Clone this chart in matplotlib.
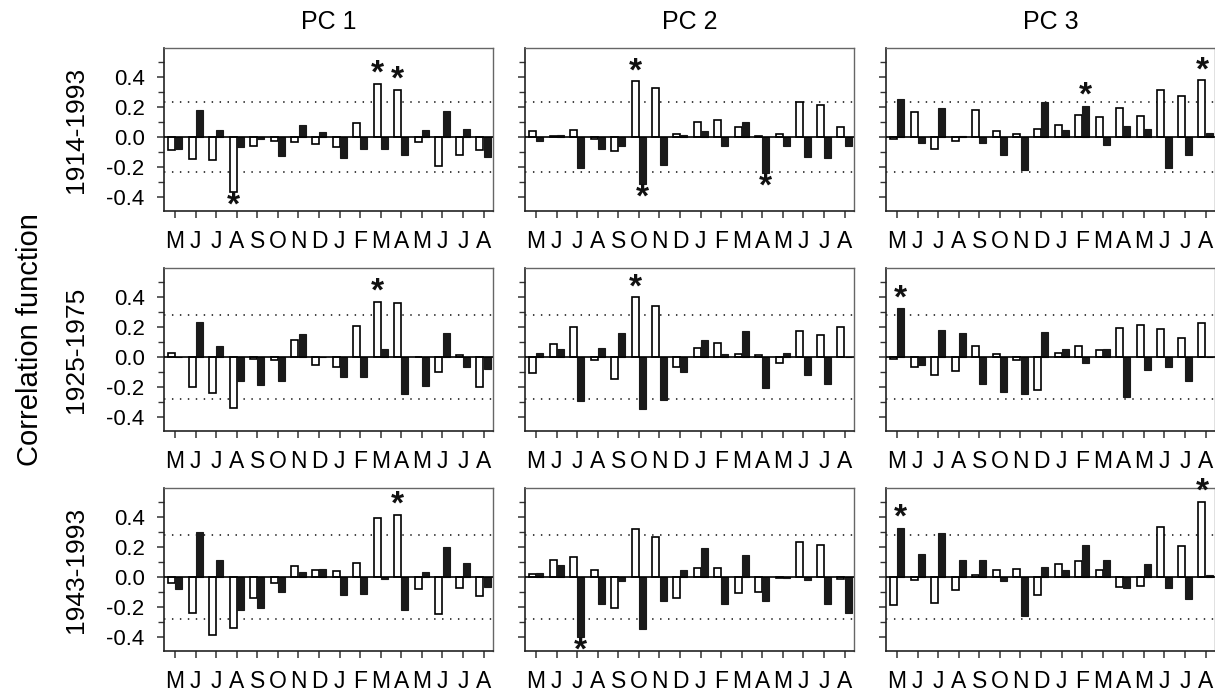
import matplotlib
matplotlib.use('Agg')
import matplotlib.pyplot as plt
import numpy as np

plt.rcParams['font.family'] = ['Liberation Sans', 'DejaVu Sans']

months = ['M', 'J', 'J', 'A', 'S', 'O', 'N', 'D', 'J', 'F', 'M', 'A', 'M', 'J', 'J', 'A']
pcs = ['PC 1', 'PC 2', 'PC 3']
periods = ['1914-1993', '1925-1975', '1943-1993']
thresholds = [0.23, 0.28, 0.28]

# Row 1: 1914-1993
pc1_1914_white = [-0.083, -0.145, -0.15, -0.366, -0.06, -0.025, -0.031, -0.045, -0.065, 0.094, 0.353, 0.313, -0.036, -0.19, -0.116, -0.089]
pc1_1914_black = [-0.076, 0.18, 0.049, -0.069, -0.011, -0.125, 0.078, 0.036, -0.14, -0.076, -0.08, -0.118, 0.045, 0.172, 0.054, -0.132]
pc2_1914_white = [0.042, 0.007, 0.047, -0.016, -0.094, 0.369, 0.328, 0.02, 0.098, 0.114, 0.065, 0.009, 0.02, 0.235, 0.21, 0.065]
pc2_1914_black = [-0.029, 0.013, -0.206, -0.08, -0.06, -0.311, -0.183, 0.011, 0.038, -0.06, 0.098, -0.235, -0.06, -0.13, -0.141, -0.06]
pc3_1914_white = [-0.013, 0.168, -0.078, -0.025, 0.179, 0.042, 0.02, 0.056, 0.08, 0.147, 0.134, 0.192, 0.139, 0.313, 0.273, 0.375]
pc3_1914_black = [0.253, -0.038, 0.192, 0.009, -0.04, -0.116, -0.219, 0.23, 0.049, 0.208, -0.056, 0.076, 0.054, -0.206, -0.121, 0.029]

# Row 2: 1925-1975
pc1_1925_white = [0.027, -0.197, -0.235, -0.337, -0.013, -0.022, 0.112, -0.054, -0.067, 0.208, 0.366, 0.36, -0.003, -0.098, 0.013, -0.201]
pc1_1925_black = [0.003, 0.23, 0.074, -0.156, -0.188, -0.156, 0.15, -0.003, -0.13, -0.134, 0.054, -0.248, -0.192, 0.161, -0.069, -0.08]
pc2_1925_white = [-0.105, 0.085, 0.197, -0.018, -0.145, 0.396, 0.34, -0.069, 0.058, 0.094, 0.022, 0.013, -0.038, 0.172, 0.143, 0.197]
pc2_1925_black = [0.027, 0.054, -0.288, 0.06, 0.159, -0.342, -0.282, -0.096, 0.112, 0.018, 0.174, -0.206, 0.029, -0.116, -0.181, 0.003]
pc3_1925_white = [-0.016, -0.065, -0.121, -0.092, 0.072, 0.022, -0.02, -0.217, 0.029, 0.072, 0.049, 0.192, 0.215, 0.185, 0.127, 0.226]
pc3_1925_black = [0.322, -0.054, 0.181, 0.161, -0.179, -0.232, -0.246, 0.168, 0.051, -0.042, 0.056, -0.266, -0.083, -0.063, -0.159, 0.003]

# Row 3: 1943-1993
pc1_1943_white = [-0.038, -0.239, -0.384, -0.337, -0.136, -0.042, 0.076, 0.047, 0.04, 0.094, 0.389, 0.413, -0.078, -0.246, -0.072, -0.123]
pc1_1943_black = [-0.078, 0.3, 0.112, -0.221, -0.208, -0.096, 0.031, 0.056, -0.121, -0.114, -0.016, -0.221, 0.036, 0.197, 0.096, -0.069]
pc2_1943_white = [0.022, 0.116, 0.132, 0.047, -0.203, 0.32, 0.264, -0.136, 0.06, 0.06, -0.105, -0.096, -0.005, 0.23, 0.212, -0.016]
pc2_1943_black = [0.029, 0.08, -0.396, -0.181, -0.027, -0.344, -0.156, 0.047, 0.19, -0.181, 0.145, -0.161, -0.005, -0.022, -0.177, -0.239]
pc3_1943_white = [-0.185, -0.018, -0.172, -0.083, 0.011, 0.045, 0.054, -0.116, 0.087, 0.107, 0.045, -0.063, -0.06, 0.333, 0.203, 0.498]
pc3_1943_black = [0.326, 0.15, 0.29, 0.116, 0.11, -0.027, -0.259, 0.067, 0.047, 0.215, 0.11, -0.072, 0.089, -0.072, -0.143, 0.011]

white_series = [[pc1_1914_white, pc2_1914_white, pc3_1914_white],
                [pc1_1925_white, pc2_1925_white, pc3_1925_white],
                [pc1_1943_white, pc2_1943_white, pc3_1943_white]]
black_series = [[pc1_1914_black, pc2_1914_black, pc3_1914_black],
                [pc1_1925_black, pc2_1925_black, pc3_1925_black],
                [pc1_1943_black, pc2_1943_black, pc3_1943_black]]

# significant bars: (row, col, month index, 'w' white / 'b' black)
stars = [(0, 0, 3, 'w'), (0, 0, 10, 'w'), (0, 0, 11, 'w'),
         (0, 1, 5, 'w'), (0, 1, 5, 'b'), (0, 1, 11, 'b'),
         (0, 2, 9, 'b'), (0, 2, 15, 'w'),
         (1, 0, 10, 'w'), (1, 1, 5, 'w'), (1, 2, 0, 'b'),
         (2, 0, 11, 'w'), (2, 1, 2, 'b'), (2, 2, 0, 'b'), (2, 2, 15, 'w')]

W, H = 1215, 692
fig = plt.figure(figsize=(W / 100, H / 100), dpi=100)
lefts = [164, 525, 886]
tops = [48, 268, 488]
aw, ah = 329, 163
bw = 0.34
off = 0.175
x = np.arange(len(months))

axes = {}
for r in range(3):
    for c in range(3):
        ax = fig.add_axes([lefts[c] / W, 1 - (tops[r] + ah) / H, aw / W, ah / H])
        axes[(r, c)] = ax
        ax.bar(x - off, white_series[r][c], width=bw, facecolor='white', edgecolor='black',
               linewidth=1.2, zorder=3)
        ax.bar(x + off, black_series[r][c], width=bw, facecolor='#1a1a1a', edgecolor='#1a1a1a',
               linewidth=0.8, zorder=3)
        ax.axhline(0, color='black', lw=1.2, zorder=4)
        for s in (1, -1):
            ax.axhline(s * thresholds[r], color='#333333', lw=1.3, ls=(0, (0.8, 3.6)), zorder=1)
        ax.set_xlim(-0.54, 15.46)
        ax.set_ylim(-0.49, 0.59)
        ax.set_xticks(x)
        ax.set_xticklabels(months, fontsize=16.5)
        ax.set_yticks([-0.4, -0.2, 0.0, 0.2, 0.4])
        ax.set_yticks([-0.3, -0.1, 0.1, 0.3, 0.5], minor=True)
        if c == 0:
            ax.set_yticklabels(['-0.4', '-0.2', '0.0', '0.2', '0.4'], fontsize=16)
        else:
            ax.set_yticklabels([])
        ax.tick_params(axis='both', which='major', direction='out', length=5, width=1.1,
                       color='#333333')
        ax.tick_params(axis='y', which='major', pad=9)
        ax.tick_params(axis='x', which='major', pad=9)
        ax.tick_params(axis='y', which='minor', direction='out', length=4, width=1.0,
                       color='#333333')
        for sp in ('left', 'bottom'):
            ax.spines[sp].set_color('#222222')
            ax.spines[sp].set_linewidth(1.2)
        for sp in ('top', 'right'):
            ax.spines[sp].set_color('#666666')
            ax.spines[sp].set_linewidth(1.0)

for (r, c, m, which) in stars:
    ax = axes[(r, c)]
    if which == 'w':
        v = white_series[r][c][m]
        xp = m - off
    else:
        v = black_series[r][c][m]
        xp = m + off
    yp = v + 0.085 if v > 0 else v - 0.07
    ax.text(xp, yp, '*', ha='center', va='center_baseline', fontsize=24, fontweight='bold',
            color='#111111', zorder=5, clip_on=False)

for c in range(3):
    fig.text((lefts[c] + aw / 2) / W, 1 - 22 / H, pcs[c], ha='center', va='center', fontsize=18)
for r in range(3):
    fig.text(76 / W, 1 - (tops[r] + ah / 2) / H, periods[r], rotation=90, ha='center',
             va='center', fontsize=19)
fig.text(30 / W, 1 - 340 / H, 'Correlation function', rotation=90, ha='center', va='center',
         fontsize=21)

fig.savefig('out.png', dpi=100)
